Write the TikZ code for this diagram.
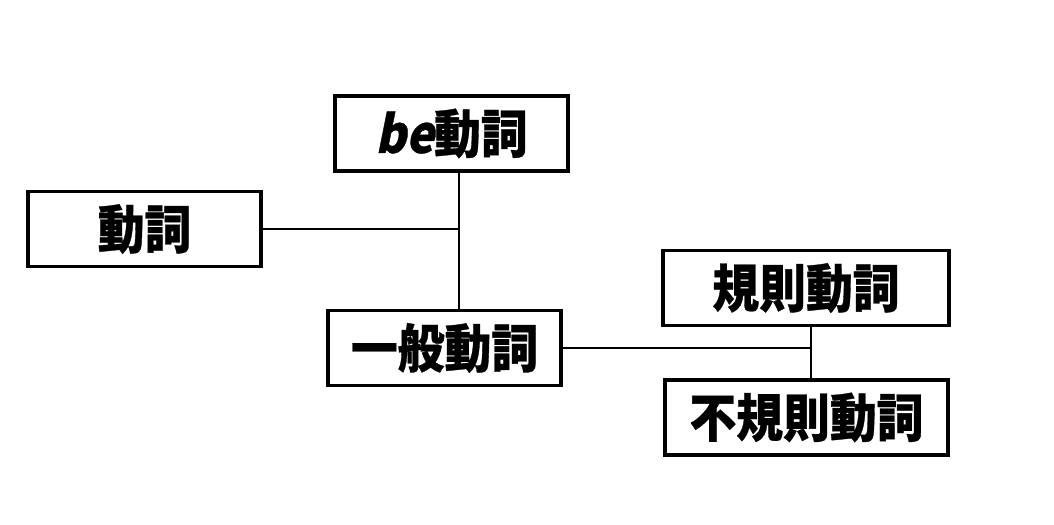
\documentclass[tikz,border=0pt]{standalone}
\usepackage{fontspec}
\usepackage{tikz}
\usetikzlibrary{shapes,arrows,positioning}
\newfontfamily\jpfont{Noto Sans CJK JP}[FakeStretch=0.9,FakeBold=0.6]
\newfontfamily\jpslant{Noto Sans CJK JP}[FakeStretch=0.9,FakeSlant=0.2,FakeBold=0.6]

\begin{document}
\begin{tikzpicture}[x=0.75pt, y=-0.75pt]
    % Styles
    \tikzstyle{box} = [rectangle, draw, line width=2.6pt, minimum height=56pt, inner sep=0pt, font=\jpfont\bfseries\fontsize{39pt}{39pt}\selectfont]
    \tikzstyle{line} = [draw, line width=2pt]

    \useasboundingbox (0,0) rectangle (1054,525);

    % Nodes
    \node [box, minimum width=175pt] (verb) at (144.5,229) {動詞};
    \node [box, minimum width=175pt] (be) at (451.5,133.5) {{\jpslant\bfseries be}動詞};
    \node [box, minimum width=175pt] (general) at (444.5,348) {一般動詞};
    \node [box, minimum width=214.5pt] (regular) at (806,288) {規則動詞};
    \node [box, minimum width=212.5pt] (irregular) at (806.5,417.5) {不規則動詞};
    \coordinate (j1) at (459,229);
    \coordinate (j2) at (811,348);

    % Edges
    \path [line] (verb.east) -- (verb.east -| j1);
    \path [line] (be.south -| j1) -- (general.north -| j1);
    \path [line] (general.east) -- (general.east -| j2);
    \path [line] (regular.south -| j2) -- (irregular.north -| j2);
\end{tikzpicture}
\end{document}
